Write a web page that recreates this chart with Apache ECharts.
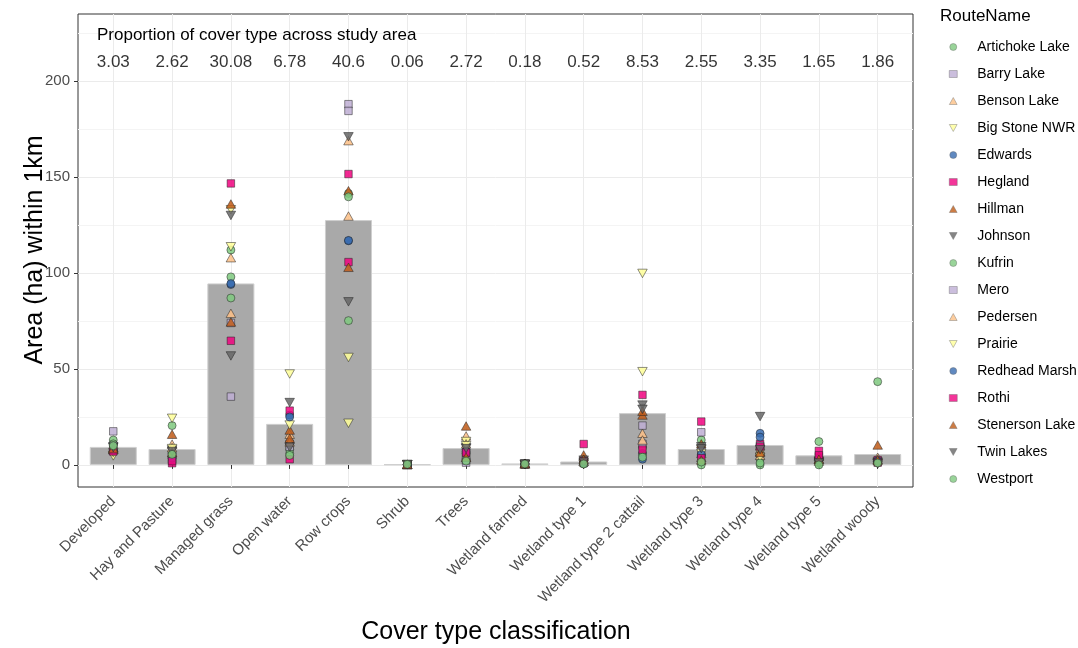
<!DOCTYPE html>
<html>
<head>
<meta charset="utf-8">
<script src="https://cdn.jsdelivr.net/npm/echarts@6/dist/echarts.min.js"></script>
<style>
html,body{margin:0;padding:0;background:#fff;}
#chart{width:1078px;height:648px;}
</style>
</head>
<body>
<div id="chart"></div>
<script>
const categories = ['Developed','Hay and Pasture','Managed grass','Open water','Row crops','Shrub','Trees','Wetland farmed','Wetland type 1','Wetland type 2 cattail','Wetland type 3','Wetland type 4','Wetland type 5','Wetland woody'];
const barValues = [9.4, 8.3, 94.6, 21.4, 127.6, 0.3, 8.8, 0.8, 1.8, 27, 8.3, 10.4, 5, 5.7];
const proportionLabels = ['3.03','2.62','30.08','6.78','40.6','0.06','2.72','0.18','0.52','8.53','2.55','3.35','1.65','1.86'];
const yTicks = [0, 50, 100, 150, 200];
const routeNames = ['Artichoke Lake','Barry Lake','Benson Lake','Big Stone NWR','Edwards','Hegland','Hillman','Johnson','Kufrin','Mero','Pedersen','Prairie','Redhead Marsh','Rothi','Stenerson Lake','Twin Lakes','Westport'];

const artichokeLake = [13, 20.5, 112, 6, 141.5, 0.3, 6, 0.5, 0.9, 9, 13, 3, 12.2, 43.4];
const barryLake     = [17.5, 5, 35.6, 11, 188, 0.2, 1.2, 0.4, 1, 20.5, 17, 9, 4, 2];
const bensonLake    = [9, 10.8, 108, 16, 169, 0.2, 15.1, 0.5, 2, 16.5, 6, 8, 3, 4];
const bigStoneNWR   = [4.7, 24.3, 133, 47.4, 56, 0.1, 12.2, 0.3, 0.5, 99.8, 8, 6, 2, 1.5];
const edwards       = [8, 4.3, 94, 26, 116.8, 0.2, 8, 0.5, 1.5, 6, 5, 16.5, 3.5, 2];
const hegland       = [8.5, 0.9, 146.7, 28.3, 151.6, 0.1, 5, 0.4, 10.9, 36.5, 22.6, 11, 7.3, 2.5];
const hillman       = [8, 16, 136, 18.2, 142.9, 0.3, 20.3, 0.9, 5.2, 26, 11, 7, 4.5, 10.4];
const johnson       = [9.5, 7.8, 130, 32.5, 171, 0.2, 9, 0.4, 2.5, 31.2, 9.5, 25.2, 1.5, 1];
const kufrin        = [11, 6, 98, 8, 139.7, 0.3, 3, 0.5, 0.5, 5, 0, 0, 1, 1.5];
const mero          = [10, 3, 74, 9.5, 184.5, 0.1, 2.5, 0.4, 1.2, 11, 7, 10, 2.5, 1.8];
const pedersen      = [8, 9, 79, 12, 129.7, 0.2, 11, 0.5, 1.8, 13, 4, 5, 2, 3];
const prairie       = [6.5, 8.5, 113.7, 20.8, 21.7, 0.1, 10, 0.3, 0.3, 48.6, 6, 4, 0.5, 0.8];
const redheadMarsh  = [7.5, 3.5, 94.5, 25, 117, 0.2, 7, 0.5, 1, 3, 5.5, 14.5, 2.5, 2];
const rothi         = [7, 2, 64.7, 3, 105.7, 0.1, 6.5, 0.4, 2, 8, 3.5, 9.5, 5, 1.2];
const stenersonLake = [8.5, 6.5, 74.5, 13.9, 103, 0.3, 4, 0.8, 3, 28, 2.6, 6.5, 3, 2.5];
const twinLakes     = [9, 7, 56.8, 9.2, 85, 0.2, 8.5, 0.4, 1.5, 29, 8.5, 8, 1, 0.5];
const westport      = [10, 5.5, 87, 5, 75.2, 0.3, 2, 0.5, 0.5, 4, 1.5, 1, 0, 1];

const routeValues = [artichokeLake, barryLake, bensonLake, bigStoneNWR, edwards, hegland, hillman, johnson, kufrin, mero, pedersen, prairie, redheadMarsh, rothi, stenersonLake, twinLakes, westport];

const palette = ['#7FC97F','#BEAED4','#FDC086','#FFFF99','#386CB0','#F0027F','#BF5B17','#666666'];
const upTri = 'path://M5,0L10,9L0,9Z';
const downTri = 'path://M0,0L10,0L5,9Z';
const shapes = ['circle','rect',upTri,downTri];
const shapeSizes = [8, 7.5, [9.5,8.5], [9.5,8.5]];

const fontFamily = 'Liberation Sans, Arial, sans-serif';
const chart = echarts.init(document.getElementById('chart'), null, {renderer:'canvas'});

const scatterSeries = routeNames.map((name, i) => ({
  name: name,
  type: 'scatter',
  xAxisIndex: 3, yAxisIndex: 3,
  symbol: shapes[i % 4],
  symbolSize: shapeSizes[i % 4],
  clip: false,
  itemStyle: { color: palette[i % 8], opacity: 0.85, borderColor: '#222', borderWidth: 0.6 },
  emphasis: { disabled: true },
  data: routeValues[i],
  z: 3
}));

const option = {
  animation: false,
  textStyle: { fontFamily: fontFamily },
  grid: [
    { left: 78, width: 835, top: 14, height: 473, show: true, borderColor: '#333333', borderWidth: 1, backgroundColor: 'transparent' },
    { left: 78, width: 835, top: 33, height: 384 },
    { left: 78, width: 835, top: 81, height: 384 },
    { left: 83.88, width: 823.2, top: 14, height: 473 },
    { left: 113.28, width: 764.4, top: 14, height: 473 }
  ],
  xAxis: [
    { gridIndex: 0, type: 'value', show: false },
    { gridIndex: 1, type: 'value', show: false },
    { gridIndex: 2, type: 'value', show: false },
    { gridIndex: 3, type: 'category', data: categories, boundaryGap: true,
      axisLine: { show: false },
      axisTick: { show: true, length: 4, alignWithLabel: true, lineStyle: { color: '#333333' } },
      axisLabel: { rotate: 45, fontSize: 15, color: '#4d4d4d', margin: 12, interval: 0, fontFamily: fontFamily },
      splitLine: { show: false } },
    { gridIndex: 4, type: 'category', data: categories, boundaryGap: false,
      axisLine: { show: false }, axisTick: { show: false }, axisLabel: { show: false },
      splitLine: { show: true, interval: 0, lineStyle: { color: '#ebebeb', width: 1 } } }
  ],
  yAxis: [
    { gridIndex: 0, type: 'value', show: false },
    { gridIndex: 1, type: 'value', min: 25, max: 225, interval: 50,
      axisLine: { show: false }, axisTick: { show: false }, axisLabel: { show: false },
      splitLine: { show: true, lineStyle: { color: '#f4f4f4', width: 1 } } },
    { gridIndex: 2, type: 'value', min: yTicks[0], max: yTicks[yTicks.length - 1], interval: 50,
      axisLine: { show: false },
      axisTick: { show: true, length: 4, lineStyle: { color: '#333333' } },
      axisLabel: { fontSize: 15, color: '#4d4d4d', margin: 8, fontFamily: fontFamily },
      splitLine: { show: true, lineStyle: { color: '#ebebeb', width: 1 } } },
    { gridIndex: 3, type: 'value', min: -11.5, max: 235, show: false, splitLine: { show: false } },
    { gridIndex: 4, type: 'value', show: false, splitLine: { show: false } }
  ],
  legend: {
    orient: 'vertical', left: 949, top: 39, padding: 0,
    itemWidth: 8, itemHeight: 7, itemGap: 11,
    data: routeNames,
    itemStyle: { borderWidth: 0.5, borderColor: '#666666', opacity: 0.8 },
    textStyle: { fontSize: 14, color: '#000', lineHeight: 16, padding: [0, 0, 0, 15], fontFamily: fontFamily }
  },
  graphic: [
    { type: 'text', z: 100, left: 940, top: 8, style: { text: 'RouteName', fontSize: 17, fill: '#000', fontFamily: fontFamily } },
    { type: 'text', z: 100, left: 97, top: 27, style: { text: 'Proportion of cover type across study area', fontSize: 17, fill: '#000', fontFamily: fontFamily } },
    { type: 'text', z: 100, x: 35, y: 250, rotation: Math.PI / 2,
      style: { text: 'Area (ha) within 1km', fontSize: 25, fill: '#000', align: 'center', verticalAlign: 'middle', fontFamily: fontFamily } },
    { type: 'text', z: 100, x: 496, y: 632,
      style: { text: 'Cover type classification', fontSize: 25, fill: '#000', align: 'center', verticalAlign: 'middle', fontFamily: fontFamily } }
  ],
  series: [
    { type: 'bar', xAxisIndex: 3, yAxisIndex: 3, data: barValues, barWidth: '80%',
      itemStyle: { color: '#a9a9a9', borderColor: '#cfcfcf', borderWidth: 1 },
      emphasis: { disabled: true }, z: 2 },
    { type: 'scatter', xAxisIndex: 3, yAxisIndex: 3, clip: false,
      data: proportionLabels.map(() => 210), symbolSize: 1,
      itemStyle: { color: 'transparent' }, emphasis: { disabled: true },
      label: { show: true, position: 'inside', fontSize: 17, color: '#000', fontFamily: fontFamily,
        formatter: p => proportionLabels[p.dataIndex] }, z: 4 }
  ].concat(scatterSeries)
};
chart.setOption(option);
</script>
</body>
</html>
